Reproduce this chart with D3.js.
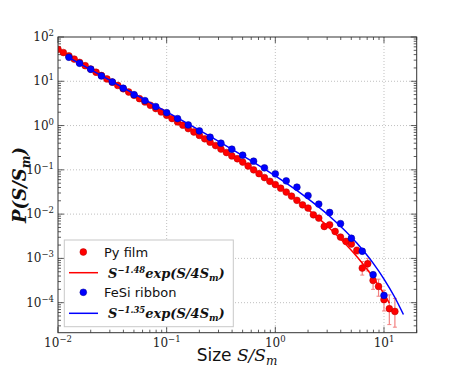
<!DOCTYPE html>
<html><head><meta charset="utf-8">
<script src="https://cdn.jsdelivr.net/npm/d3@7"></script>
<style>body{margin:0;background:#fff}</style>
</head><body><svg id="c" width="463" height="371"></svg>
<script>
// ---- data ----
const redX = [0.01,0.0112,0.0126,0.0141,0.0158,0.0178,0.02,0.0224,0.0251,0.0282,0.0316,0.0355,0.0398,0.0447,0.0501,0.0562,0.0631,0.0708,0.0794,0.0891,0.1,0.112,0.126,0.141,0.158,0.178,0.2,0.224,0.251,0.282,0.316,0.355,0.398,0.447,0.501,0.562,0.631,0.708,0.794,0.891,1.0,1.12,1.26,1.41,1.58,1.78,2.0,2.24,2.51,2.82,3.16,3.55,3.98,4.47,5.01,5.62,6.31,7.08,7.94,8.91,10.0,11.2,12.6];
const redY = [52.8,44.6,37.5,31.7,26.7,22.5,18.9,16.0,13.5,11.3,9.56,8.06,6.79,5.72,4.81,4.05,3.41,2.87,2.42,2.03,1.71,1.44,1.21,1.02,0.853,0.716,0.600,0.503,0.421,0.353,0.295,0.246,0.206,0.178,0.150,0.122,0.100,0.082,0.067,0.0551,0.0465,0.0385,0.0315,0.0255,0.0205,0.0162,0.0137,0.00966,0.00813,0.00526,0.00574,0.00405,0.00303,0.00242,0.00211,0.00151,0.000605,0.000757,0.000318,0.000233,0.000117,0.0000731,0.0000635];
const redErrX  = [5.62,6.31,7.08,7.94,8.91,10.0,11.2,12.6];
const redErrLo = [0.00125,0.00042,0.00052,0.00020,0.00014,0.000065,0.000032,0.000028];
const redErrHi = [0.00180,0.00085,0.00100,0.00045,0.00034,0.000190,0.000150,0.000125];
const blueX = [0.0126,0.0158,0.02,0.0251,0.0316,0.0398,0.0501,0.0631,0.0794,0.1,0.126,0.158,0.2,0.251,0.316,0.398,0.501,0.631,0.794,1.0,1.26,1.58,2.0,2.51,3.16,3.98,5.01,6.31,7.94,10.0];
const blueY = [34.8,25.5,18.7,13.19,9.66,6.96,4.99,3.66,2.68,1.96,1.436,1.035,0.758,0.546,0.400,0.293,0.2145,0.157,0.1109,0.0812,0.0564,0.0407,0.0263,0.01683,0.01088,0.0061,0.00285,0.00145,0.000428,0.000146];
const redFitX = [0.01,0.0316,0.1,0.316,1,1.78,3.16,5.62,7.94,10,11.2];
const redFitY = [52.8,9.56,1.71,0.295,0.0452,0.0159,0.0048,0.0011,0.000371,0.000158,0.000098];
const blueFitX = [0.0126,0.0316,0.1,0.316,1,1.78,3.16,5.62,7.94,10,12.6,15.1];
const blueFitY = [34.2,9.81,2.04,0.408,0.0727,0.0275,0.00895,0.00222,0.000781,0.000342,0.000131,0.000054];
const xTicks = [0.01,0.1,1,10];
const xTickExp = ["\u22122","\u22121","0","1"];
const yTicks = [100,10,1,0.1,0.01,0.001,0.0001];
const yTickExp = ["2","1","0","\u22121","\u22122","\u22123","\u22124"];
const legendLabels = ["Py film","S","FeSi ribbon","S"];

// ---- layout ----
const L = 58, R = 416.7, T = 37, B = 332.7;
const svg = d3.select("#c");
const x = d3.scaleLog().domain([0.01, 20]).range([L, R]);
const y = d3.scaleLog().domain([2.1e-5, 100]).range([B, T]);

// grid
const g = svg.append("g");
g.selectAll(".gx").data(xTicks.slice(1)).join("line")
  .attr("x1", d => x(d)).attr("x2", d => x(d)).attr("y1", T).attr("y2", B)
  .attr("stroke", "#b0b0b0").attr("stroke-width", 0.8).attr("stroke-dasharray", "1,2");
g.selectAll(".gy").data(yTicks.slice(1)).join("line")
  .attr("y1", d => y(d)).attr("y2", d => y(d)).attr("x1", L).attr("x2", R)
  .attr("stroke", "#b0b0b0").attr("stroke-width", 0.8).attr("stroke-dasharray", "1,2");

// ticks (inward, all sides)
const minorX = [], minorY = [];
for (let e = -2; e <= 1; e++) for (let m = 2; m <= 9; m++) { const v = m * Math.pow(10, e); if (v <= 20) minorX.push(v); }
for (let e = -5; e <= 1; e++) for (let m = 2; m <= 9; m++) { const v = m * Math.pow(10, e); if (v >= 2.1e-5 && v <= 100) minorY.push(v); }
const tk = svg.append("g").attr("stroke", "#333").attr("stroke-width", 0.8);
function xt(vals, len) {
  vals.forEach(v => {
    tk.append("line").attr("x1", x(v)).attr("x2", x(v)).attr("y1", B).attr("y2", B - len);
    tk.append("line").attr("x1", x(v)).attr("x2", x(v)).attr("y1", T).attr("y2", T + len);
  });
}
function yt(vals, len) {
  vals.forEach(v => {
    tk.append("line").attr("y1", y(v)).attr("y2", y(v)).attr("x1", L).attr("x2", L + len);
    tk.append("line").attr("y1", y(v)).attr("y2", y(v)).attr("x1", R).attr("x2", R - len);
  });
}
xt(xTicks, 6); xt(minorX, 3); yt(yTicks, 6); yt(minorY, 3);

// tick labels
const tf = "'DejaVu Serif', serif";
xTicks.forEach((v, i) => {
  const t = svg.append("text").attr("x", x(v)).attr("y", 347).attr("text-anchor", "middle")
    .attr("font-family", tf).attr("font-size", 12).attr("fill", "#222");
  t.append("tspan").text("10");
  t.append("tspan").attr("dy", -5).attr("font-size", 8.5).text(xTickExp[i]);
});
yTicks.forEach((v, i) => {
  const t = svg.append("text").attr("x", 54).attr("y", y(v) + 4).attr("text-anchor", "end")
    .attr("font-family", tf).attr("font-size", 12).attr("fill", "#222");
  t.append("tspan").text("10");
  t.append("tspan").attr("dy", -5).attr("font-size", 8.5).text(yTickExp[i]);
});

// data
const clip = svg.append("clipPath").attr("id", "cp").append("rect")
  .attr("x", L).attr("y", T).attr("width", R - L).attr("height", B - T);
const pg = svg.append("g").attr("clip-path", "url(#cp)");
const line = d3.line().x(d => x(d[0])).y(d => y(d[1])).curve(d3.curveMonotoneX);

pg.selectAll(".eb").data(redErrX).join("line")
  .attr("x1", d => x(d)).attr("x2", d => x(d))
  .attr("y1", (d, i) => y(redErrLo[i])).attr("y2", (d, i) => y(redErrHi[i]))
  .attr("stroke", "#f28080").attr("stroke-width", 1.2);
pg.selectAll(".ebc1").data(redErrX).join("line")
  .attr("x1", d => x(d) - 2).attr("x2", d => x(d) + 2)
  .attr("y1", (d, i) => y(redErrLo[i])).attr("y2", (d, i) => y(redErrLo[i]))
  .attr("stroke", "#f28080").attr("stroke-width", 1);
pg.selectAll(".ebc2").data(redErrX).join("line")
  .attr("x1", d => x(d) - 2).attr("x2", d => x(d) + 2)
  .attr("y1", (d, i) => y(redErrHi[i])).attr("y2", (d, i) => y(redErrHi[i]))
  .attr("stroke", "#f28080").attr("stroke-width", 1);

pg.selectAll(".rp").data(redX).join("circle")
  .attr("cx", d => x(d)).attr("cy", (d, i) => y(redY[i])).attr("r", 3.4)
  .attr("fill", "#ff0000").attr("stroke", "#b00000").attr("stroke-width", 0.5);
pg.append("path").datum(redFitX.map((d, i) => [d, redFitY[i]])).attr("d", line)
  .attr("fill", "none").attr("stroke", "#ff0000").attr("stroke-width", 1.5);
pg.selectAll(".bp").data(blueX).join("circle")
  .attr("cx", d => x(d)).attr("cy", (d, i) => y(blueY[i])).attr("r", 3.4)
  .attr("fill", "#0000ff").attr("stroke", "#000090").attr("stroke-width", 0.5);
pg.append("path").datum(blueFitX.map((d, i) => [d, blueFitY[i]])).attr("d", line)
  .attr("fill", "none").attr("stroke", "#0000ff").attr("stroke-width", 1.5);

// frame
svg.append("rect").attr("x", L).attr("y", T).attr("width", R - L).attr("height", B - T)
  .attr("fill", "none").attr("stroke", "#333").attr("stroke-width", 1);

// legend
const lg = svg.append("g");
lg.append("rect").attr("x", 64.3).attr("y", 240).attr("width", 169).attr("height", 86.7)
  .attr("fill", "#fff").attr("stroke", "#c8c8c8").attr("stroke-width", 1);
const rows = [252, 272.7, 292.3, 313.3];
lg.append("circle").attr("cx", 83.3).attr("cy", rows[0]).attr("r", 3.4).attr("fill", "#ff0000").attr("stroke", "#b00000").attr("stroke-width", 0.5);
lg.append("line").attr("x1", 69).attr("x2", 98).attr("y1", rows[1]).attr("y2", rows[1]).attr("stroke", "#ff0000").attr("stroke-width", 1.5);
lg.append("circle").attr("cx", 83.3).attr("cy", rows[2]).attr("r", 3.4).attr("fill", "#0000ff").attr("stroke", "#000090").attr("stroke-width", 0.5);
lg.append("line").attr("x1", 69).attr("x2", 98).attr("y1", rows[3]).attr("y2", rows[3]).attr("stroke", "#0000ff").attr("stroke-width", 1.5);
const sf = "'DejaVu Sans', sans-serif";
lg.append("text").attr("x", 104).attr("y", rows[0] + 4.5).attr("font-family", sf).attr("font-size", 13).attr("fill", "#111").text(legendLabels[0]);
lg.append("text").attr("x", 104).attr("y", rows[2] + 4.5).attr("font-family", sf).attr("font-size", 13).attr("fill", "#111").text(legendLabels[2]);
function mathLabel(yy, exp) {
  const t = lg.append("text").attr("x", 108).attr("y", yy + 5).attr("font-family", "'DejaVu Serif', serif")
    .attr("font-style", "italic").attr("font-weight", "bold").attr("font-size", 13).attr("fill", "#111");
  t.append("tspan").text("S");
  t.append("tspan").attr("dy", -5).attr("font-size", 8.5).text(exp);
  t.append("tspan").attr("dy", 5).text("exp(S/4S");
  t.append("tspan").attr("dy", 3).attr("font-size", 9).text("m");
  t.append("tspan").attr("dy", -3).text(")");
}
mathLabel(rows[1], "\u22121.48");
mathLabel(rows[3], "\u22121.35");

// axis labels
const xl = svg.append("text").attr("x", 237).attr("y", 361).attr("text-anchor", "middle").attr("font-size", 17).attr("fill", "#111");
xl.append("tspan").attr("font-family", sf).text("Size ");
xl.append("tspan").attr("font-family", "'DejaVu Serif', serif").attr("font-style", "italic").text("S/S");
xl.append("tspan").attr("font-family", "'DejaVu Serif', serif").attr("font-style", "italic").attr("font-size", 12).attr("dy", 4).text("m");

const yl = svg.append("text").attr("transform", "translate(26,185) rotate(-90)").attr("text-anchor", "middle")
  .attr("font-family", "'DejaVu Serif', serif").attr("font-style", "italic").attr("font-weight", "bold").attr("font-size", 18).attr("fill", "#111");
yl.append("tspan").text("P(S/S");
yl.append("tspan").attr("font-size", 12).attr("dy", 4).text("m");
yl.append("tspan").attr("dy", -4).text(")");
</script></body></html>
